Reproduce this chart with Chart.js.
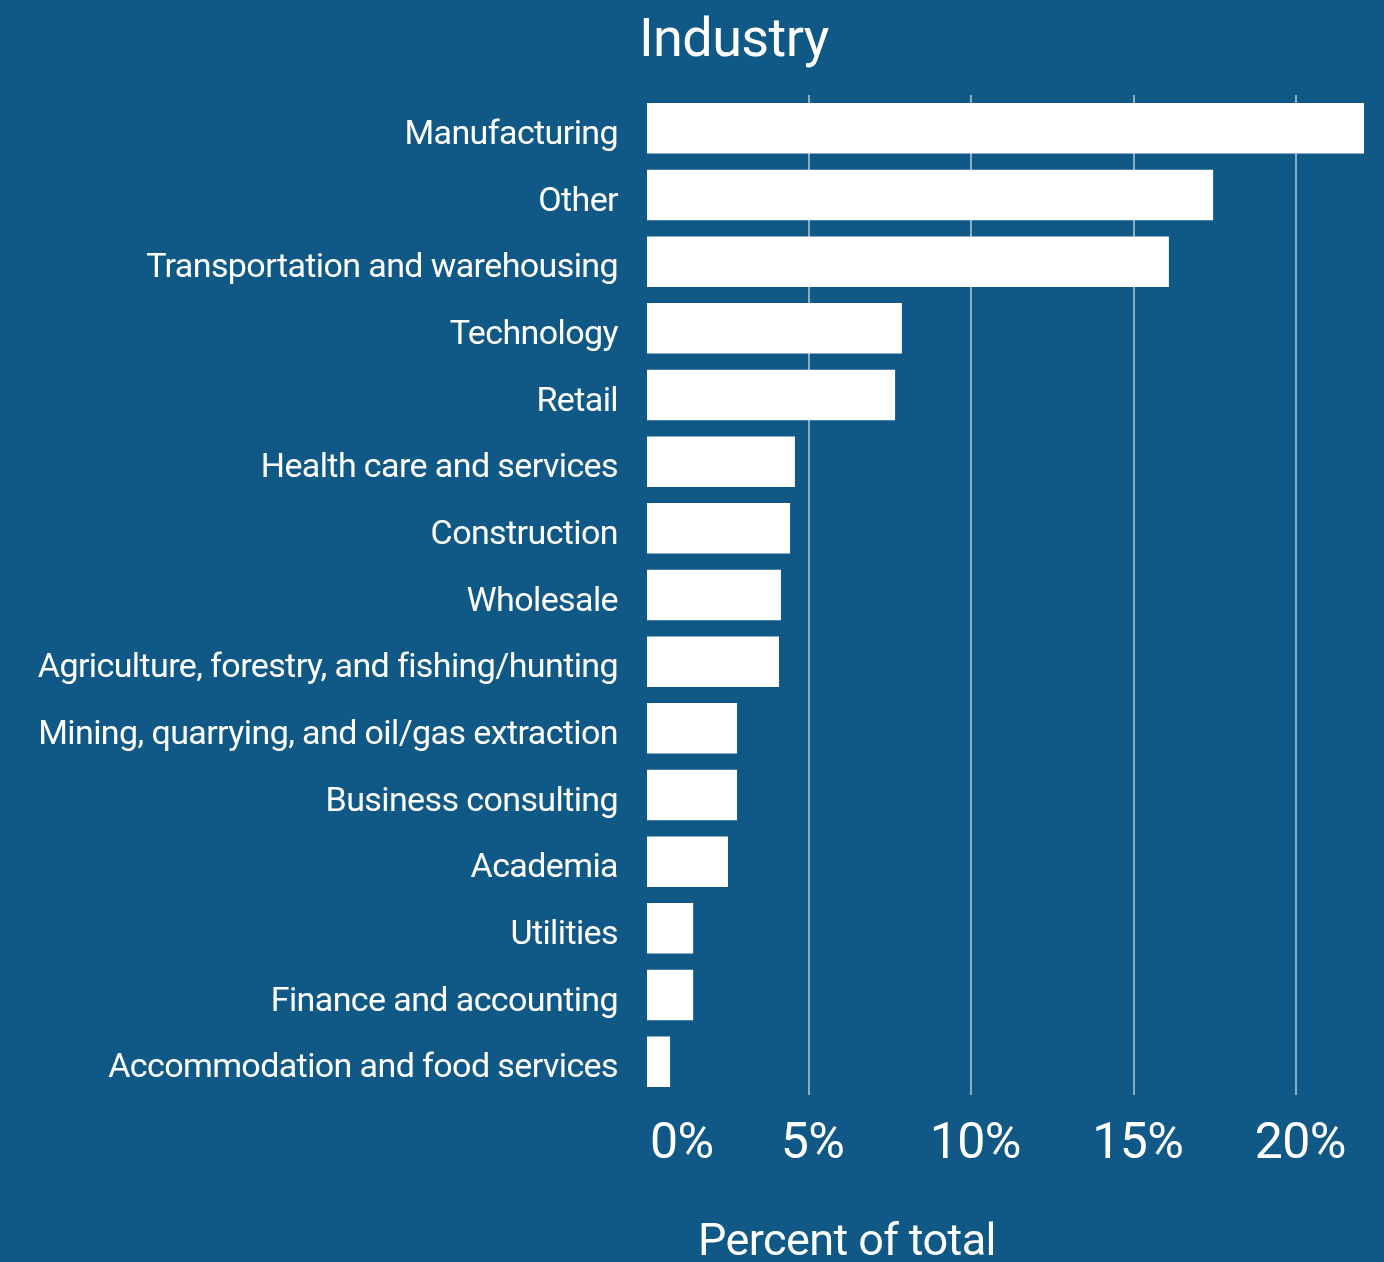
<!DOCTYPE html>
<html>
<head>
<meta charset="utf-8">
<title>Industry</title>
<script src="https://cdn.jsdelivr.net/npm/chart.js@4.4.0/dist/chart.umd.min.js"></script>
<style>
  html, body { margin: 0; padding: 0; background: #105885; overflow: hidden; }
  canvas { display: block; }
</style>
</head>
<body>
<canvas id="chart" width="1384" height="1262"></canvas>
<script>
// data
const industries = [
    "Manufacturing",
    "Other",
    "Transportation and warehousing",
    "Technology",
    "Retail",
    "Health care and services",
    "Construction",
    "Wholesale",
    "Agriculture, forestry, and fishing/hunting",
    "Mining, quarrying, and oil/gas extraction",
    "Business consulting",
    "Academia",
    "Utilities",
    "Finance and accounting",
    "Accommodation and food services",
];
const percentOfTotal = [22.08, 17.44, 16.08, 7.87, 7.66, 4.58, 4.43, 4.15, 4.09, 2.80, 2.80, 2.52, 1.45, 1.45, 0.74];
const tickValues = [0, 5, 10, 15, 20];
const tickLabels = ["0%", "5%", "10%", "15%", "20%"];
const xMax = 22.08;

const BG = "#105885";
const GRID = "rgba(255, 255, 255, 0.5)";
const FONT = "Roboto, 'Open Sans', sans-serif";

const textPlugin = {
    id: "texts",
    beforeDraw(chart) {
        const { ctx } = chart;
        ctx.save();
        ctx.fillStyle = BG;
        ctx.fillRect(0, 0, chart.width, chart.height);
        ctx.restore();
        // the original typeface is narrower than Roboto, tighten it a bit
        ctx.letterSpacing = "-0.6px";
    },
    afterDraw(chart) {
        const { ctx, chartArea } = chart;
        ctx.save();
        ctx.fillStyle = "#ffffff";
        ctx.textBaseline = "alphabetic";
        ctx.textAlign = "left";
        ctx.font = `54px ${FONT}`;
        ctx.fillText("Industry", chartArea.left - 7, 56);
        ctx.textAlign = "center";
        ctx.font = `45px ${FONT}`;
        ctx.fillText("Percent of total", 847, 1255);
        ctx.restore();
    },
};

new Chart(document.getElementById("chart"), {
    type: "bar",
    data: {
        labels: industries,
        datasets: [{
            data: percentOfTotal,
            backgroundColor: "#ffffff",
            borderWidth: 0,
            barPercentage: 0.757,
            categoryPercentage: 1,
        }],
    },
    options: {
        indexAxis: "y",
        responsive: false,
        animation: false,
        layout: { padding: { top: 95, right: 20, left: 0, bottom: 0 } },
        plugins: {
            legend: { display: false },
            tooltip: { enabled: false },
        },
        scales: {
            x: {
                min: 0,
                max: xMax,
                afterBuildTicks(scale) {
                    // extra blank tick at the end so the "inner" alignment only touches 0%
                    scale.ticks = tickValues.map(v => ({ value: v })).concat([{ value: xMax }]);
                },
                afterFit(scale) { scale.height = 167; },
                ticks: {
                    align: "inner",
                    color: "#ffffff",
                    padding: 20,
                    labelOffset: 4,
                    font: { family: FONT, size: 50 },
                    callback: (v) => {
                        const i = tickValues.indexOf(v);
                        return i >= 0 ? tickLabels[i] : "";
                    },
                },
                grid: {
                    color: (c) => (c.tick && (c.tick.value === 0 || c.tick.value === xMax)) ? "transparent" : GRID,
                    lineWidth: 2,
                    drawTicks: false,
                },
                border: { display: false },
            },
            y: {
                afterFit(scale) { scale.width = 646; },
                ticks: {
                    color: "#ffffff",
                    padding: 28,
                    labelOffset: 7,
                    font: { family: FONT, size: 34 },
                },
                grid: { display: false, drawTicks: false },
                border: { display: false },
            },
        },
    },
    plugins: [textPlugin],
});
</script>
</body>
</html>
